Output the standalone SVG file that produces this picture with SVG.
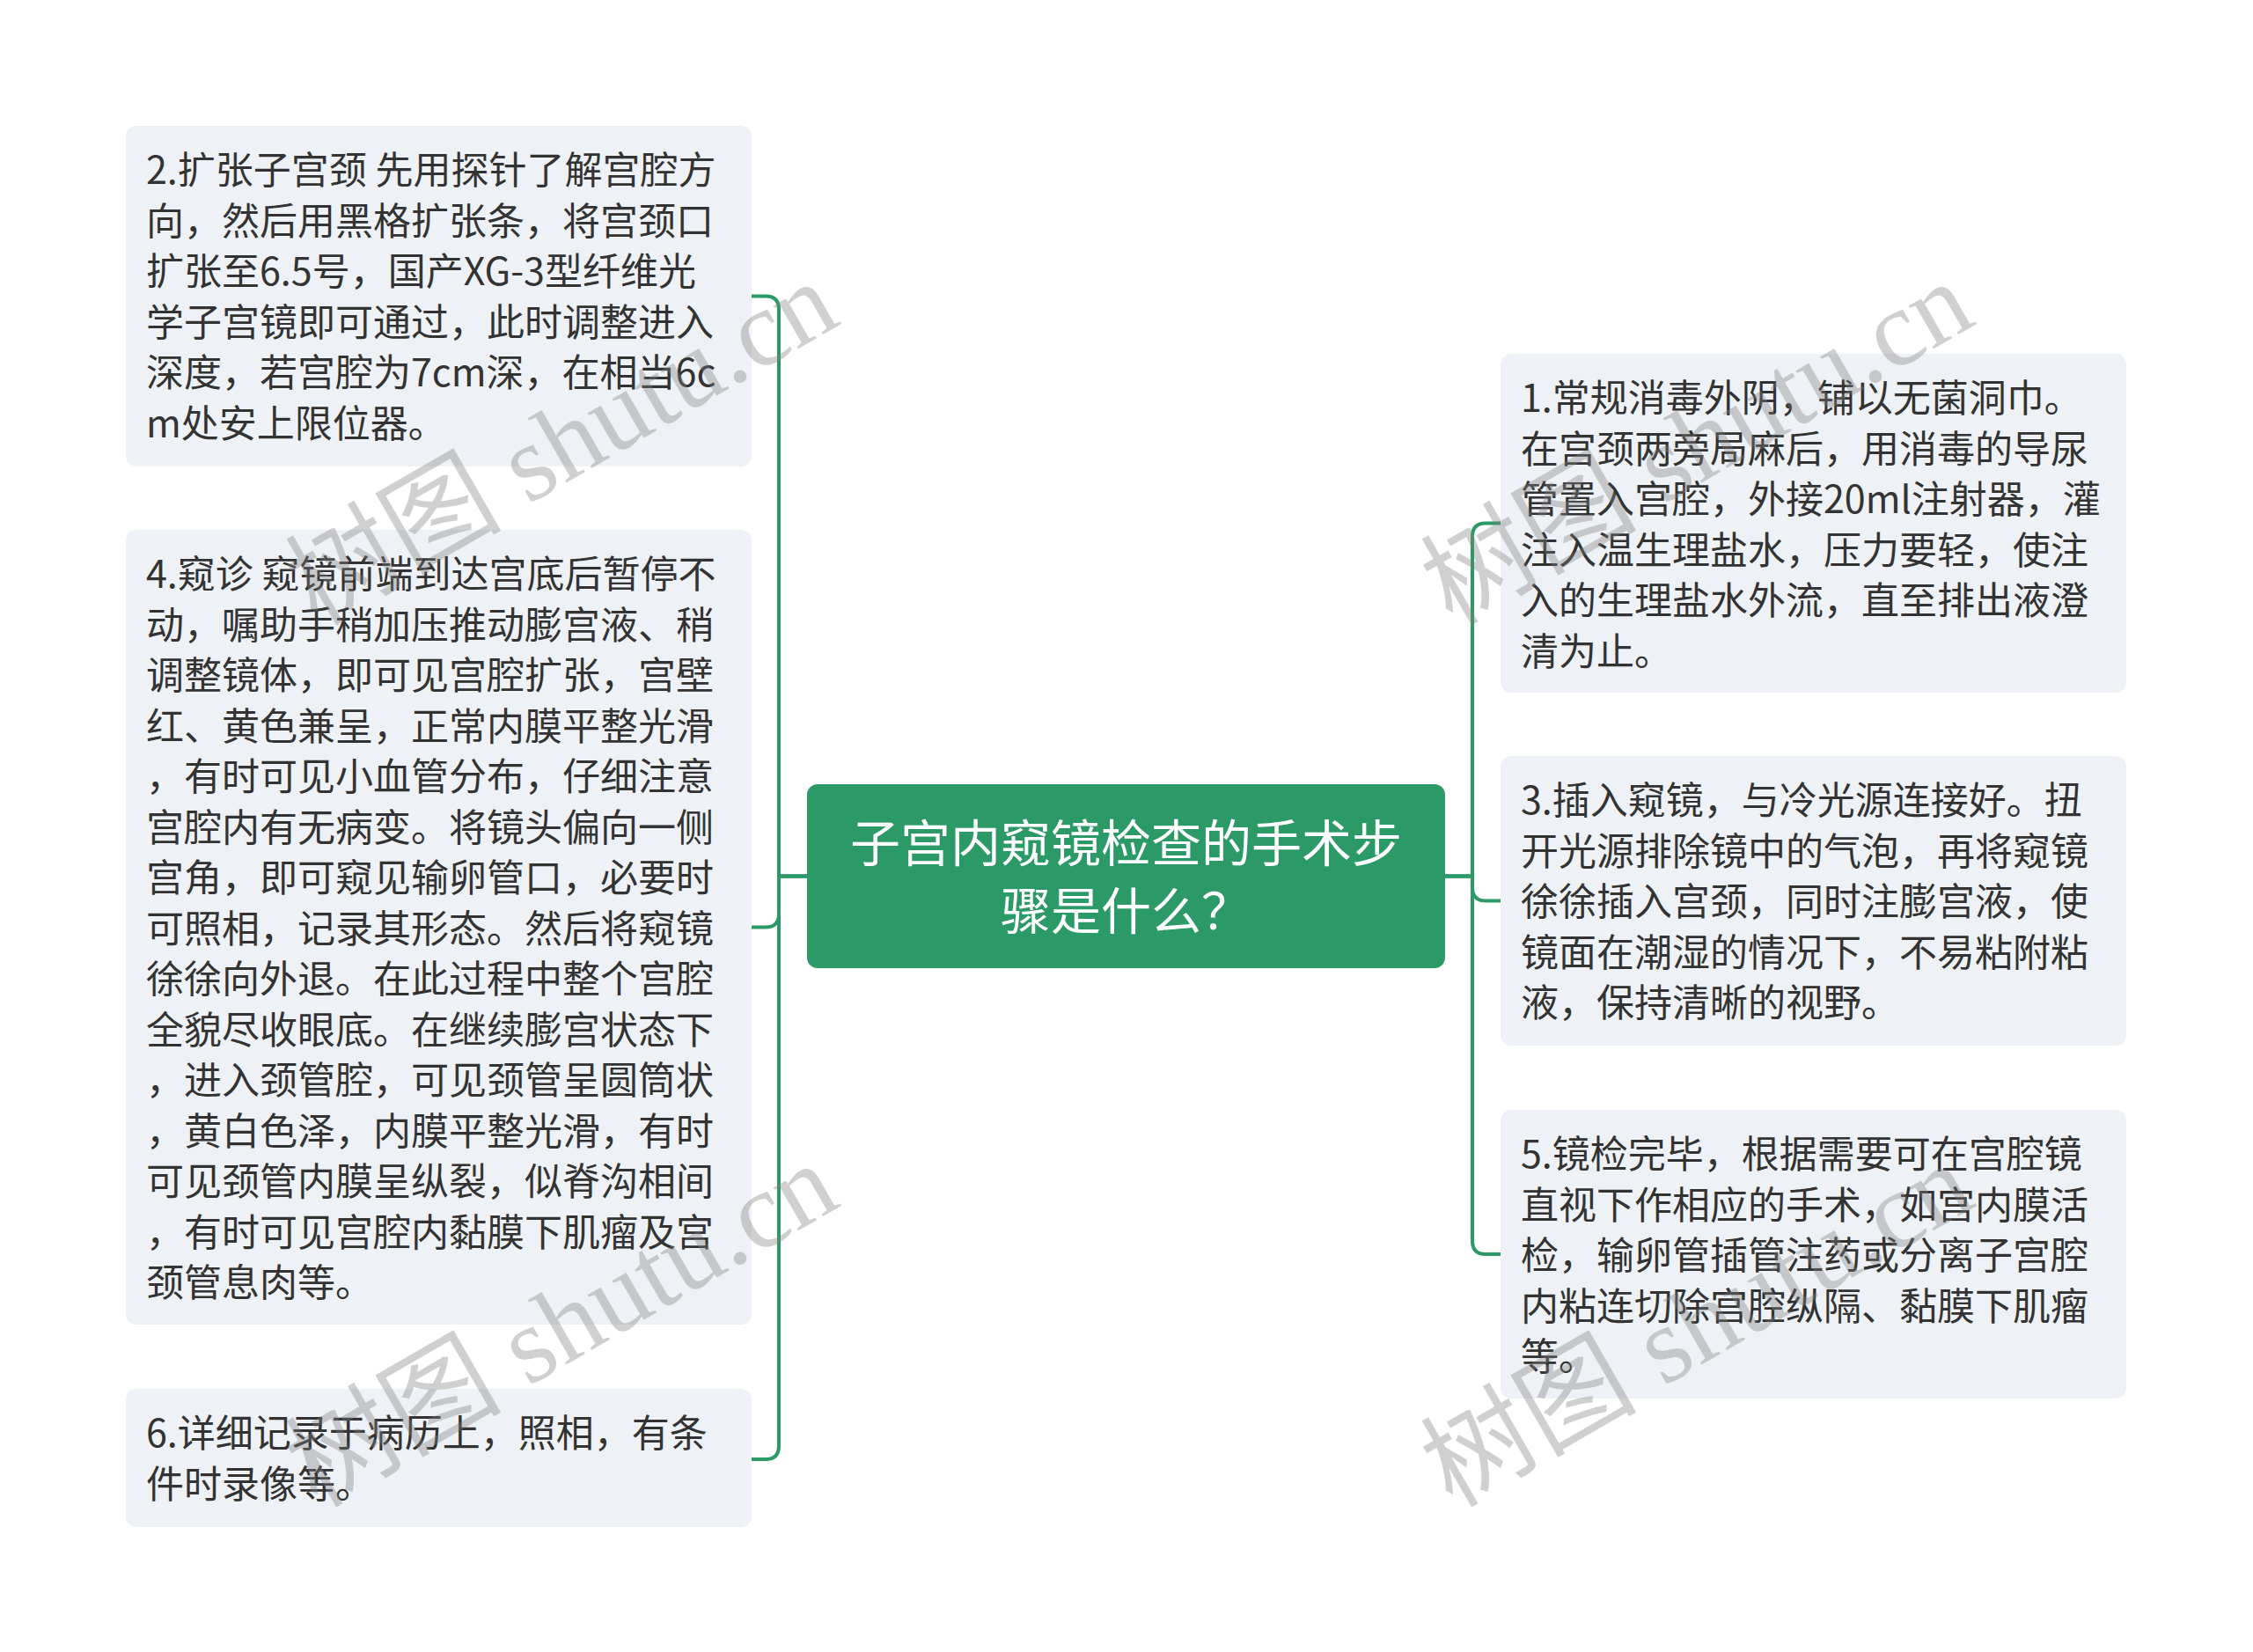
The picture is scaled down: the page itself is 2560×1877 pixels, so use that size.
<svg xmlns="http://www.w3.org/2000/svg" width="2560" height="1877" viewBox="0 0 2560 1877">
<style>
.node rect{fill:#eef1f5;}
.node text{font-family:"Noto Sans CJK SC","Noto Sans",sans-serif;font-size:43px;fill:#333333;}
#center rect{fill:#2b9a66;}
#center text{font-family:"Noto Sans CJK SC","Noto Sans",sans-serif;font-size:57px;fill:#ffffff;text-anchor:middle;}
.conn path{fill:none;stroke:#2b9a66;stroke-width:4;stroke-linecap:round;stroke-linejoin:round;}
.wm text{font-family:"Liberation Serif","Noto Sans CJK SC",serif;font-size:123px;fill:#808080;opacity:0.36;}
</style>
<rect x="0" y="0" width="2560" height="1877" fill="#ffffff"/>
<g class="conn" id="connectors">
<path d="M917,995.5 H885 V351.5 Q885,336.5 870,336.5 H854"/>
<path d="M917,995.5 H885 V1038.5 Q885,1053.5 870,1053.5 H854"/>
<path d="M917,995.5 H885 V1643 Q885,1658 870,1658 H854"/>
<path d="M1642,995.5 H1673 V609.5 Q1673,594.5 1688,594.5 H1705"/>
<path d="M1642,995.5 H1673 V1008.5 Q1673,1023.5 1688,1023.5 H1705"/>
<path d="M1642,995.5 H1673 V1410 Q1673,1425 1688,1425 H1705"/>
</g>
<g id="center">
<rect x="917" y="891" width="725" height="209" rx="12"/>
<text x="1279.5" y="979">子宫内窥镜检查的手术步</text>
<text x="1279.5" y="1056">骤是什么？</text>
</g>
<g class="node" id="node2">
<rect x="143" y="143" width="711" height="387" rx="12"/>
<text x="166" y="209">2.扩张子宫颈 先用探针了解宫腔方</text>
<text x="166" y="266.5">向，然后用黑格扩张条，将宫颈口</text>
<text x="166" y="324">扩张至6.5号，国产XG-3型纤维光</text>
<text x="166" y="381.5">学子宫镜即可通过，此时调整进入</text>
<text x="166" y="439">深度，若宫腔为7cm深，在相当6c</text>
<text x="166" y="496.5">m处安上限位器。</text>
</g>
<g class="node" id="node4">
<rect x="143" y="602" width="711" height="903" rx="12"/>
<text x="166" y="668">4.窥诊 窥镜前端到达宫底后暂停不</text>
<text x="166" y="725.5">动，嘱助手稍加压推动膨宫液、稍</text>
<text x="166" y="783">调整镜体，即可见宫腔扩张，宫壁</text>
<text x="166" y="840.5">红、黄色兼呈，正常内膜平整光滑</text>
<text x="166" y="898">，有时可见小血管分布，仔细注意</text>
<text x="166" y="955.5">宫腔内有无病变。将镜头偏向一侧</text>
<text x="166" y="1013">宫角，即可窥见输卵管口，必要时</text>
<text x="166" y="1070.5">可照相，记录其形态。然后将窥镜</text>
<text x="166" y="1128">徐徐向外退。在此过程中整个宫腔</text>
<text x="166" y="1185.5">全貌尽收眼底。在继续膨宫状态下</text>
<text x="166" y="1243">，进入颈管腔，可见颈管呈圆筒状</text>
<text x="166" y="1300.5">，黄白色泽，内膜平整光滑，有时</text>
<text x="166" y="1358">可见颈管内膜呈纵裂，似脊沟相间</text>
<text x="166" y="1415.5">，有时可见宫腔内黏膜下肌瘤及宫</text>
<text x="166" y="1473">颈管息肉等。</text>
</g>
<g class="node" id="node6">
<rect x="143" y="1578" width="711" height="157" rx="12"/>
<text x="166" y="1644">6.详细记录于病历上，照相，有条</text>
<text x="166" y="1701.5">件时录像等。</text>
</g>
<g class="node" id="node1">
<rect x="1705" y="402" width="711" height="385" rx="12"/>
<text x="1728" y="468">1.常规消毒外阴，铺以无菌洞巾。</text>
<text x="1728" y="525.5">在宫颈两旁局麻后，用消毒的导尿</text>
<text x="1728" y="583">管置入宫腔，外接20ml注射器，灌</text>
<text x="1728" y="640.5">注入温生理盐水，压力要轻，使注</text>
<text x="1728" y="698">入的生理盐水外流，直至排出液澄</text>
<text x="1728" y="755.5">清为止。</text>
</g>
<g class="node" id="node3">
<rect x="1705" y="859" width="711" height="329" rx="12"/>
<text x="1728" y="925">3.插入窥镜，与冷光源连接好。扭</text>
<text x="1728" y="982.5">开光源排除镜中的气泡，再将窥镜</text>
<text x="1728" y="1040">徐徐插入宫颈，同时注膨宫液，使</text>
<text x="1728" y="1097.5">镜面在潮湿的情况下，不易粘附粘</text>
<text x="1728" y="1155">液，保持清晰的视野。</text>
</g>
<g class="node" id="node5">
<rect x="1705" y="1261" width="711" height="328" rx="12"/>
<text x="1728" y="1327">5.镜检完毕，根据需要可在宫腔镜</text>
<text x="1728" y="1384.5">直视下作相应的手术，如宫内膜活</text>
<text x="1728" y="1442">检，输卵管插管注药或分离子宫腔</text>
<text x="1728" y="1499.5">内粘连切除宫腔纵隔、黏膜下肌瘤</text>
<text x="1728" y="1557">等。</text>
</g>
<g class="wm">
<text x="360" y="712" transform="rotate(-30 360 712)">树图 shutu.cn</text>
<text x="1650" y="712" transform="rotate(-30 1650 712)">树图 shutu.cn</text>
<text x="360" y="1714" transform="rotate(-30 360 1714)">树图 shutu.cn</text>
<text x="1650" y="1714" transform="rotate(-30 1650 1714)">树图 shutu.cn</text>
</g>
</svg>
